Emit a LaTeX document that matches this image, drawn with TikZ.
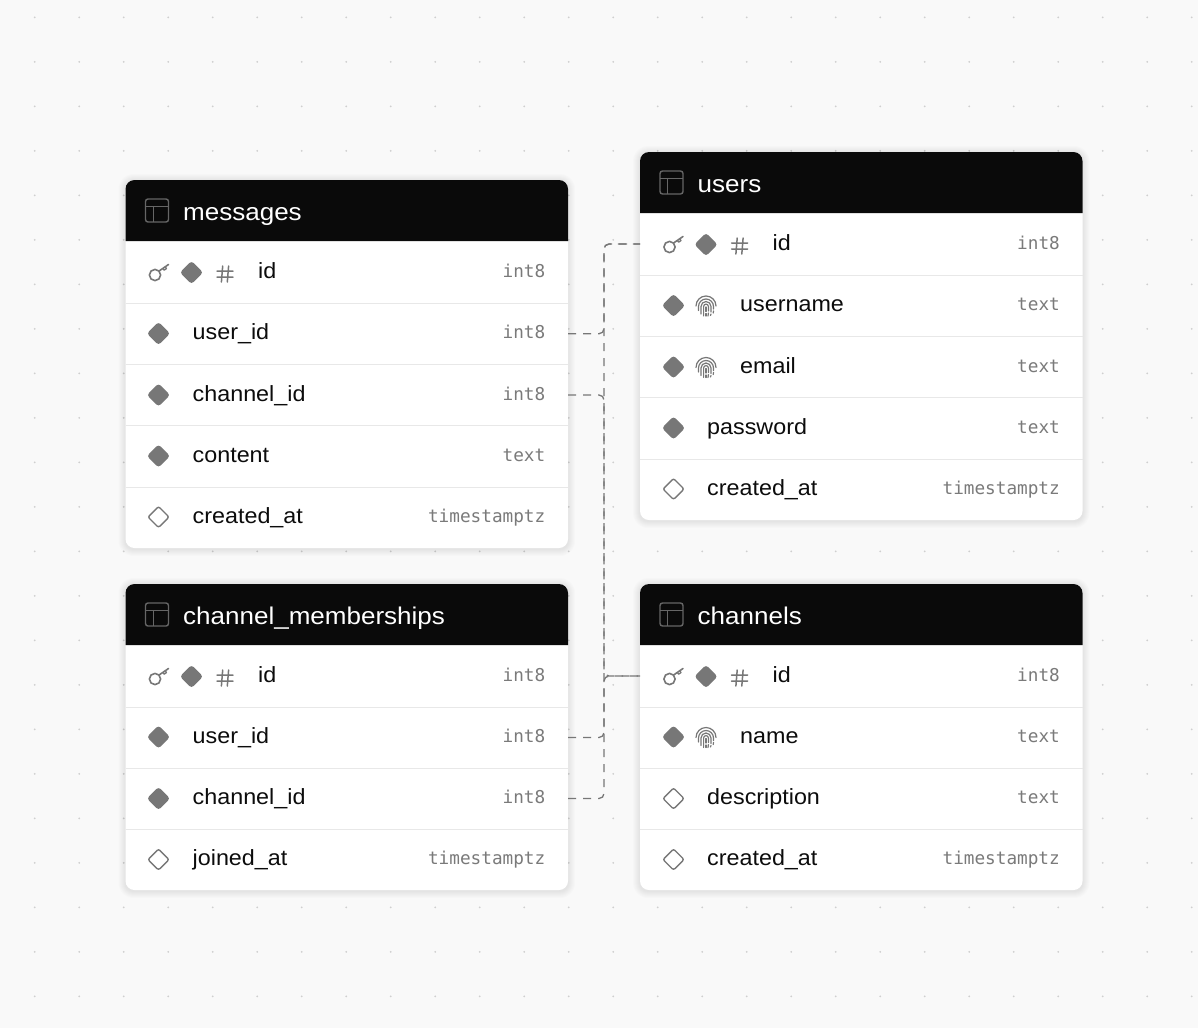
\documentclass[tikz,border=0pt]{standalone}
\usepackage{fontspec}
\setmainfont[FakeStretch=1.06]{Liberation Sans}
\newfontfamily\titlef[FakeStretch=1.075]{Liberation Sans}
\newfontfamily\monof{DejaVu Sans Mono}
\definecolor{pagebg}{HTML}{F9F9F9}
\definecolor{griddot}{HTML}{CFCFCF}
\definecolor{headbg}{HTML}{0A0A0A}
\definecolor{iconc}{HTML}{777777}
\definecolor{headicon}{HTML}{666666}
\definecolor{rowline}{HTML}{E8E8E8}
\definecolor{typec}{HTML}{7A7A7A}
\definecolor{namec}{HTML}{0C0C0C}
\tikzset{
  x=1pt,y=-1pt,
  rowbox/.style={minimum width=442.5pt,inner sep=0pt,outer sep=0pt},
  fieldname/.style={anchor=base west,inner sep=0pt,text=namec,font=\fontsize{22}{24}\selectfont},
  fieldtype/.style={anchor=base east,inner sep=0pt,text=typec,font=\monof\fontsize{17.7}{20}\selectfont},
  tabletitle/.style={anchor=base west,inner sep=0pt,text=white,font=\titlef\fontsize{24.2}{28}\selectfont},
  divider/.style={draw=rowline,line width=1pt},
  relation/.style={draw=iconc,line width=1.3pt,dash pattern=on 8pt off 7pt,rounded corners=5pt},
  pics/fkmark/.style={code={\fill[iconc,rounded corners=3pt] (-11.6,0)--(0,-11.6)--(11.6,0)--(0,11.6)--cycle;}},
  pics/openmark/.style={code={\draw[iconc,line width=1.4pt,rounded corners=2pt,fill=white] (-10.5,0)--(0,-10.5)--(10.5,0)--(0,10.5)--cycle;}},
  pics/keymark/.style={code={
    \draw[iconc,line width=1.6pt] (-3.5,3) circle (5.6);
    \draw[iconc,line width=1.6pt,line cap=round] (0.6,-1)--(10,-7.5);
    \draw[iconc,line width=1.3pt,line join=round] (4.3,-3.6)--(5.6,-1.8)--(8,-3.4)--(6.7,-5.4);
  }},
  pics/hashmark/.style={code={
    \draw[iconc,line width=1.5pt,line cap=round]
      (-8,-3)--(8,-3) (-8,3)--(8,3) (-2.3,-8)--(-3.6,8) (3.6,-8)--(2.3,8);
  }},
  pics/printmark/.style={code={
    \begin{scope}[iconc,line width=1.2pt,line cap=round]
      \draw (-10,0) arc[start angle=180,end angle=360,radius=10];
      \draw (-7.5,4.5) -- (-7.5,0.5) arc[start angle=180,end angle=360,radius=7.5] -- (7.5,3);
      \draw (-5,8) -- (-5,0.5) arc[start angle=180,end angle=360,radius=5] -- (5,6);
      \draw (-2.4,10) -- (-2.4,0.5) arc[start angle=180,end angle=360,radius=2.4] -- (2.4,5);
      \draw (0,1)--(0,5.5) (0,7.5)--(0,10);
      \draw (2.4,7)--(2,10) (5,8)--(4.5,9.5) (7.5,5)--(7.2,7);
    \end{scope}
  }},
  pics/gridmark/.style={code={
    \draw[headicon,line width=1.4pt,rounded corners=2.5pt] (-11.5,-11.5) rectangle (11.5,11.5);
    \draw[headicon,line width=1.4pt] (-11.5,-4)--(11.5,-4) (-3.8,-4)--(-3.8,11.5);
  }},
}
% #1 table id, #2 left, #3 top, #4 title, #5 bottom
\newcommand{\tablecard}[5]{%
  \foreach \s in {1,...,7}{
    \fill[black,opacity=0.011,rounded corners=8pt+\s pt]
      (#2-\s,#3-\s+1) rectangle (#2+442.5+\s,#5+\s+1);
  }
  \fill[white,rounded corners=9pt] (#2,#3) rectangle (#2+442.5,#5);
  \fill[headbg] (#2,#3+61) -- (#2,#3+9)
    arc[start angle=180,end angle=270,radius=9] -- (#2+433.5,#3)
    arc[start angle=270,end angle=360,radius=9] -- (#2+442.5,#3+61) -- cycle;
  \pic at (#2+31.5,#3+30.5) {gridmark};
  \node[tabletitle] (#1-title) at (#2+57.5,#3+40) {#4};
}
% #1 node name, #2 left, #3 row top, #4 row bottom, #5 text offset, #6 name, #7 type
\newcommand{\tablerow}[7]{%
  \node[rowbox,minimum height=#4-#3] (#1) at (#2+221.25,#3/2+#4/2) {};
  \node[fieldname] (#1-name) at (#2+#5,#3/2+#4/2+6.2) {#6};
  \node[fieldtype] (#1-type) at (#2+420,#3/2+#4/2+5) {#7};
}
\begin{document}
\begin{tikzpicture}
\useasboundingbox (0,0) rectangle (1198,1028);
\fill[pagebg] (0,0) rectangle (1198,1028);
\foreach \i in {0,...,26}{
  \foreach \j in {0,...,22}{
    \fill[griddot] (34.7+44.5*\i,17.3+44.5*\j) circle (1);
  }
}
% ---- messages
\tablecard{msg}{125.5}{180}{messages}{548}
\tablerow{msg-id}{125.5}{241}{303}{132.5}{id}{int8}
\tablerow{msg-user}{125.5}{303}{364.5}{67}{user\_id}{int8}
\tablerow{msg-chan}{125.5}{364.5}{425.5}{67}{channel\_id}{int8}
\tablerow{msg-body}{125.5}{425.5}{487}{67}{content}{text}
\tablerow{msg-time}{125.5}{487}{548}{67}{created\_at}{timestamptz}
\foreach \yy in {303,364.5,425.5,487} \draw[divider] (125.5,\yy)--(568,\yy);
\pic at (158.5,272) {keymark};
\pic at (191.5,272.5) {fkmark};
\pic at (225,274) {hashmark};
\pic at (158.5,333.5) {fkmark};
\pic at (158.5,395) {fkmark};
\pic at (158.5,456) {fkmark};
\pic at (158.5,517) {openmark};
% ---- users
\tablecard{usr}{640}{152}{users}{520}
\tablerow{usr-id}{640}{213}{275}{132.5}{id}{int8}
\tablerow{usr-name}{640}{275}{336.5}{100}{username}{text}
\tablerow{usr-mail}{640}{336.5}{397.5}{100}{email}{text}
\tablerow{usr-pass}{640}{397.5}{459}{67}{password}{text}
\tablerow{usr-time}{640}{459}{520}{67}{created\_at}{timestamptz}
\foreach \yy in {275,336.5,397.5,459} \draw[divider] (640,\yy)--(1083,\yy);
\pic at (673,244) {keymark};
\pic at (706,244.5) {fkmark};
\pic at (739.5,246) {hashmark};
\pic at (673.5,305.5) {fkmark};
\pic at (706,306) {printmark};
\pic at (673.5,367) {fkmark};
\pic at (706,367.5) {printmark};
\pic at (673.5,428) {fkmark};
\pic at (673.5,489) {openmark};
% ---- channel_memberships
\tablecard{mem}{125.5}{584}{channel\_memberships}{890}
\tablerow{mem-id}{125.5}{645}{707}{132.5}{id}{int8}
\tablerow{mem-user}{125.5}{707}{768}{67}{user\_id}{int8}
\tablerow{mem-chan}{125.5}{768}{829}{67}{channel\_id}{int8}
\tablerow{mem-time}{125.5}{829}{890}{67}{joined\_at}{timestamptz}
\foreach \yy in {707,768,829} \draw[divider] (125.5,\yy)--(568,\yy);
\pic at (158.5,676) {keymark};
\pic at (191.5,676.5) {fkmark};
\pic at (225,678) {hashmark};
\pic at (158.5,737) {fkmark};
\pic at (158.5,798.5) {fkmark};
\pic at (158.5,859.5) {openmark};
% ---- channels
\tablecard{chn}{640}{584}{channels}{890}
\tablerow{chn-id}{640}{645}{707}{132.5}{id}{int8}
\tablerow{chn-name}{640}{707}{768}{100}{name}{text}
\tablerow{chn-desc}{640}{768}{829}{67}{description}{text}
\tablerow{chn-time}{640}{829}{890}{67}{created\_at}{timestamptz}
\foreach \yy in {707,768,829} \draw[divider] (640,\yy)--(1083,\yy);
\pic at (673,676) {keymark};
\pic at (706,676.5) {fkmark};
\pic at (739.5,678) {hashmark};
\pic at (673.5,737) {fkmark};
\pic at (706,737.5) {printmark};
\pic at (673.5,798.5) {openmark};
\pic at (673.5,859.5) {openmark};
% ---- relations
\coordinate (bus) at (604,0);
\draw[relation] (msg-user.east) -- (bus |- msg-user.east) -- (bus |- usr-id.west) -- (usr-id.west);
\draw[relation] (mem-user.east) -- (bus |- mem-user.east) -- (bus |- usr-id.west) -- (usr-id.west);
\draw[relation] (msg-chan.east) -- (bus |- msg-chan.east) -- (bus |- chn-id.west) -- (chn-id.west);
\draw[relation] (mem-chan.east) -- (bus |- mem-chan.east) -- (bus |- chn-id.west) -- (chn-id.west);
\end{tikzpicture}
\end{document}
